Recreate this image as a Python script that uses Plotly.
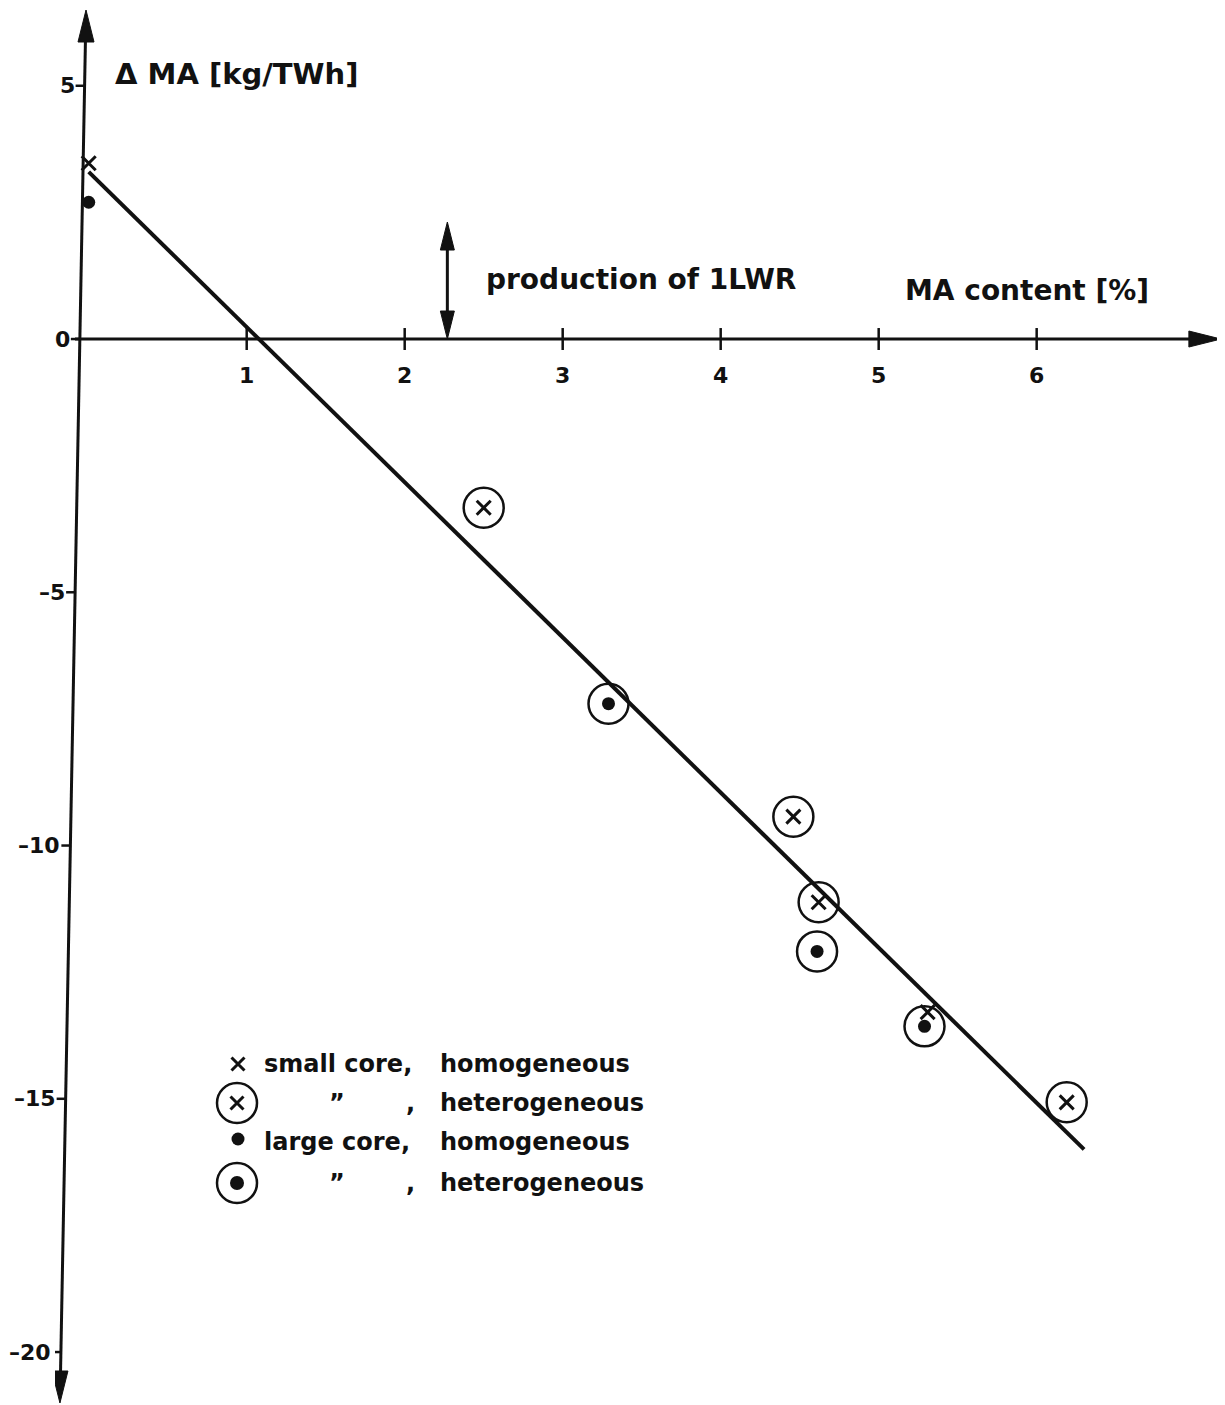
import plotly.graph_objects as go

# ---------------- data ----------------
small_hom_x = [0.0, 5.31]
small_hom_y = [3.47, -13.29]
small_het_x = [2.50, 4.46, 4.62, 6.19]
small_het_y = [-3.33, -9.43, -11.12, -15.07]
large_hom_x = [0.0]
large_hom_y = [2.70]
large_het_x = [3.29, 4.61, 5.29]
large_het_y = [-7.20, -12.09, -13.57]
fit_x = [0.0, 6.30]
fit_y = [3.30, -16.00]

x_ticks = [1, 2, 3, 4, 5, 6]
y_ticks = [5, 0, -5, -10, -15, -20]

lwr_x = 2.27          # "production of 1LWR" double arrow
lwr_top = 2.31

y_title = "\u0394 MA [kg/TWh]"
x_title = "MA content [%]"
lwr_text = "production of 1LWR"
legend_rows = [
    ("small core,", "", "homogeneous"),
    ("", "\u201d", "heterogeneous"),
    ("large core,", "", "homogeneous"),
    ("", "\u201d", "heterogeneous"),
]

# ---------------- layout constants ----------------
PAGE_OFF = 8                 # default body margin of the html page
W, H = 1225 - PAGE_OFF, 1405 - PAGE_OFF
PLOT_L, PLOT_R, PLOT_T, PLOT_B = 55, 1222, 10, 1403   # plot area in window pixels
ML = PLOT_L - PAGE_OFF
MT = PLOT_T - PAGE_OFF
MR = W - (PLOT_R - PAGE_OFF)
MB = H - (PLOT_B - PAGE_OFF)
X_RANGE = [-0.2133, 7.173]
Y_RANGE = [-21.006, 6.496]
PW, PH = PLOT_R - PLOT_L, PLOT_B - PLOT_T
DX = (X_RANGE[1] - X_RANGE[0]) / PW   # data units per pixel
DY = (Y_RANGE[1] - Y_RANGE[0]) / PH
Y_AXIS_X_TOP, Y_AXIS_X_BOT = -0.017, -0.182   # hand-drawn axis is slightly slanted
X_AXIS_START, X_AXIS_END = -0.087, 7.166

FONT = "DejaVu Sans"
INK = "#111111"
TICK_SIZE = 22


def yaxis_x(v):
    f = (Y_RANGE[1] - v) / (Y_RANGE[1] - Y_RANGE[0])
    return Y_AXIS_X_TOP + (Y_AXIS_X_BOT - Y_AXIS_X_TOP) * f


def fmt(v):
    return str(v).replace("-", "\u2013")


fig = go.Figure()

# fitted line
fig.add_trace(go.Scatter(x=fit_x, y=fit_y, mode="lines",
                         line=dict(color=INK, width=4), hoverinfo="skip"))


def ring(xs, ys, xa="x", ya="y"):
    fig.add_trace(go.Scatter(x=xs, y=ys, mode="markers", xaxis=xa, yaxis=ya, cliponaxis=False,
                             marker=dict(symbol="circle-open", size=40, color=INK,
                                         line=dict(width=2.5, color=INK))))


def cross(xs, ys, xa="x", ya="y", size=14):
    fig.add_trace(go.Scatter(x=xs, y=ys, mode="markers", xaxis=xa, yaxis=ya, cliponaxis=False,
                             marker=dict(symbol="x-thin-open", size=size, color=INK,
                                         line=dict(width=3, color=INK))))


def dot(xs, ys, xa="x", ya="y", size=13):
    fig.add_trace(go.Scatter(x=xs, y=ys, mode="markers", xaxis=xa, yaxis=ya, cliponaxis=False,
                             marker=dict(symbol="circle", size=size, color=INK,
                                         line=dict(width=0))))


# data series
cross(small_hom_x, small_hom_y)
ring(small_het_x, small_het_y)
cross(small_het_x, small_het_y)
dot(large_hom_x, large_hom_y)
ring(large_het_x, large_het_y)
dot(large_het_x, large_het_y)

# ---------------- legend (window-pixel frame on overlay axes) ----------------
LEG_SYM_X = 238
LEG_ROW_Y = [1064, 1103, 1142, 1183]
cross([LEG_SYM_X], [LEG_ROW_Y[0]], "x2", "y2", size=13)
ring([LEG_SYM_X - 1], [LEG_ROW_Y[1]], "x2", "y2")
cross([LEG_SYM_X - 1], [LEG_ROW_Y[1]], "x2", "y2", size=13)
dot([LEG_SYM_X], [LEG_ROW_Y[2] - 3], "x2", "y2", size=13)
ring([LEG_SYM_X - 1], [LEG_ROW_Y[3]], "x2", "y2")
dot([LEG_SYM_X - 1], [LEG_ROW_Y[3]], "x2", "y2", size=14)

shapes = []
annotations = []

def line_shape(x0, y0, x1, y1, w=3, **kw):
    d = dict(type="line", x0=x0, y0=y0, x1=x1, y1=y1, xref="x", yref="y",
             line=dict(color=INK, width=w))
    d.update(kw)
    shapes.append(d)

def head(xa, ya, path):
    shapes.append(dict(type="path", xref="x", yref="y", xsizemode="pixel", ysizemode="pixel",
                       xanchor=xa, yanchor=ya, path=path, fillcolor=INK,
                       line=dict(color=INK, width=1)))

# y axis (slanted) with arrows at both ends
line_shape(yaxis_x(Y_RANGE[1] - 14 * DY), Y_RANGE[1] - 14 * DY,
           yaxis_x(Y_RANGE[0] + 14 * DY), Y_RANGE[0] + 14 * DY)
head(Y_AXIS_X_TOP, Y_RANGE[1], "M0,0 L-8,-32 L8,-32 Z")
head(Y_AXIS_X_BOT, Y_RANGE[0], "M0,0 L-8,32 L8,32 Z")
# x axis with arrow
line_shape(X_AXIS_START, 0, X_AXIS_END - 14 * DX, 0)
head(X_AXIS_END, 0, "M0,0 L-32,8 L-32,-8 Z")

# x ticks (crossing) and labels
for v in x_ticks:
    shapes.append(dict(type="line", xref="x", yref="y", ysizemode="pixel", yanchor=0,
                       x0=v, x1=v, y0=-11, y1=11, line=dict(color=INK, width=2.5)))
    annotations.append(dict(x=v, y=0, xref="x", yref="y", text=fmt(v), showarrow=False,
                            yshift=-36, xanchor="center", yanchor="middle", borderpad=0,
                            font=dict(family=FONT, size=TICK_SIZE, color=INK, weight="bold")))
# y ticks (left side) and labels
for v in y_ticks:
    shapes.append(dict(type="line", xref="x", yref="y", xsizemode="pixel", xanchor=yaxis_x(v),
                       x0=-9, x1=0, y0=v, y1=v, line=dict(color=INK, width=2.5)))
    annotations.append(dict(x=yaxis_x(v), y=v, xref="x", yref="y", text=fmt(v), showarrow=False,
                            xshift=-9, xanchor="right", yanchor="middle", borderpad=0,
                            font=dict(family=FONT, size=TICK_SIZE, color=INK, weight="bold")))

# production of 1 LWR double arrow
line_shape(lwr_x, 12 * DY, lwr_x, lwr_top - 12 * DY)
head(lwr_x, lwr_top, "M0,0 L-7,-28 L7,-28 Z")
head(lwr_x, 0, "M0,0 L-7,28 L7,28 Z")

# text labels (window-pixel frame)
def ptext(x, y, s, size, anchor="left"):
    annotations.append(dict(x=x, y=y, xref="x2", yref="y2", text=s, showarrow=False,
                            xanchor=anchor, yanchor="middle",
                            font=dict(family=FONT, size=size, color=INK, weight="bold")))

ptext(113, 74, y_title, 29)
ptext(903, 290, x_title, 28)
ptext(484, 279, lwr_text, 28)

for (lab, ditto, kind), ry in zip(legend_rows, LEG_ROW_Y):
    if lab:
        ptext(262, ry, lab, 24)
    else:
        ptext(337, ry, ditto, 24, anchor="center")
        ptext(410, ry, ",", 24, anchor="center")
    ptext(438, ry, kind, 24)

fig.update_layout(
    width=W, height=H,
    margin=dict(l=ML, r=MR, t=MT, b=MB, pad=0),
    paper_bgcolor="white", plot_bgcolor="white",
    showlegend=False,
    xaxis=dict(range=X_RANGE, visible=False, fixedrange=True),
    yaxis=dict(range=Y_RANGE, visible=False, fixedrange=True),
    xaxis2=dict(range=[PLOT_L, PLOT_R], overlaying="x", anchor="y2", visible=False),
    yaxis2=dict(range=[PLOT_B, PLOT_T], overlaying="y", anchor="x2", visible=False),
    shapes=shapes,
    annotations=annotations,
)

fig.write_html("out.html")
